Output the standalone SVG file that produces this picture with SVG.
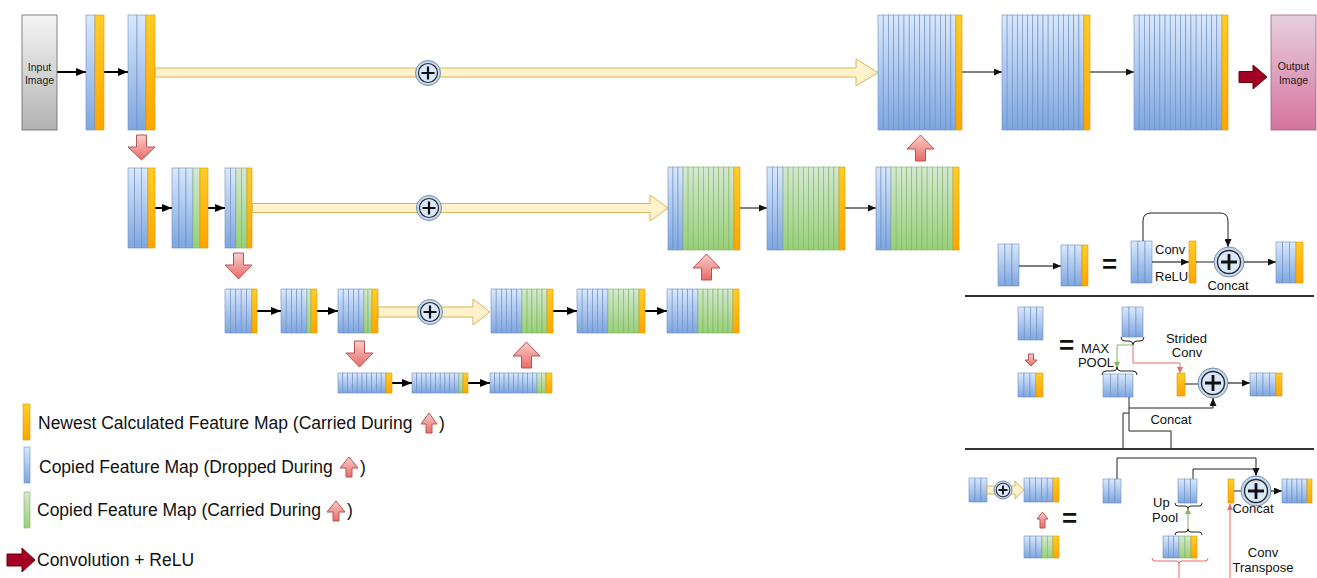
<svg xmlns="http://www.w3.org/2000/svg" xmlns:xlink="http://www.w3.org/1999/xlink" width="1317" height="578" viewBox="0 0 1317 578">
<style>
.b{fill:url(#gb);stroke:#6c8ebf;stroke-width:0.6}
.g{fill:url(#gg);stroke:#82b366;stroke-width:0.6}
.o{fill:url(#go);stroke:#d79b00;stroke-width:0.6}
.ya{fill:#fff2cc;stroke:#d6b656;stroke-width:1}
.ra{fill:url(#gr);stroke:#b85450;stroke-width:1}
.dr{fill:#a20025;stroke:#6f0000;stroke-width:1}
.k2{stroke:#000;stroke-width:2;fill:none;marker-end:url(#ak)}
.k1{stroke:#000;stroke-width:1;fill:none;marker-end:url(#as)}
.k0{stroke:#222;stroke-width:1;fill:none}
.kp{stroke:#222;stroke-width:1;fill:none;marker-end:url(#as)}
.rl{stroke:#ea6b66;stroke-width:1;fill:none}
.gl{stroke:#82b366;stroke-width:1;fill:none}
.br{stroke:#222;stroke-width:1;fill:none}
.sep{stroke:#333;stroke-width:2}
.t{font-family:"Liberation Sans",Arial,Helvetica,sans-serif;fill:#111}
.lg{font-size:17.5px}
.pn{font-size:13px}
.sm{font-size:10.5px;text-anchor:middle;fill:#222}
.eq{font-size:26px;font-weight:bold;text-anchor:middle}
.c{text-anchor:middle}
</style>
<defs>
<linearGradient id="gb" x1="0" y1="0" x2="0" y2="1"><stop offset="0" stop-color="#dae8fc"/><stop offset="1" stop-color="#7ea6e0"/></linearGradient>
<linearGradient id="gg" x1="0" y1="0" x2="0" y2="1"><stop offset="0" stop-color="#d5e8d4"/><stop offset="1" stop-color="#97d077"/></linearGradient>
<linearGradient id="go" x1="0" y1="0" x2="0" y2="1"><stop offset="0" stop-color="#ffcd28"/><stop offset="1" stop-color="#ffa500"/></linearGradient>
<linearGradient id="gr" x1="0" y1="0" x2="0" y2="1"><stop offset="0" stop-color="#f8cecc"/><stop offset="1" stop-color="#ea6b66"/></linearGradient>
<linearGradient id="gin" x1="0" y1="0" x2="0" y2="1"><stop offset="0" stop-color="#f5f5f5"/><stop offset="1" stop-color="#b3b3b3"/></linearGradient>
<linearGradient id="gout" x1="0" y1="0" x2="0" y2="1"><stop offset="0" stop-color="#e6d0de"/><stop offset="1" stop-color="#d5739d"/></linearGradient>
<marker id="ak" markerWidth="10" markerHeight="8" refX="10" refY="4" orient="auto" markerUnits="userSpaceOnUse"><path d="M0,0 L10,4 L0,8 z" fill="#000"/></marker>
<marker id="as" markerWidth="8" markerHeight="7" refX="8" refY="3.5" orient="auto" markerUnits="userSpaceOnUse"><path d="M0,0 L8,3.5 L0,7 z" fill="#111"/></marker>
<marker id="ar" markerWidth="6" markerHeight="6" refX="6" refY="3" orient="auto" markerUnits="userSpaceOnUse"><path d="M0,0 L6,3 L0,6 z" fill="#ea6b66"/></marker>
<marker id="ag" markerWidth="6" markerHeight="6" refX="6" refY="3" orient="auto" markerUnits="userSpaceOnUse"><path d="M0,0 L6,3 L0,6 z" fill="#82b366"/></marker>
<g id="pl">
<circle r="12.5" fill="#c9d8ec" stroke="#6f8fb5" stroke-width="1"/>
<circle r="9.5" fill="#dae8fc" stroke="#2b2b2b" stroke-width="1.2"/>
<path d="M-6.5,0H6.5M0,-6.5V6.5" stroke="#111" stroke-width="2.2"/>
</g>
<g id="pb">
<circle r="15" fill="#c9d8ec" stroke="#6f8fb5" stroke-width="1"/>
<circle r="11.5" fill="#dae8fc" stroke="#2b2b2b" stroke-width="1.4"/>
<path d="M-8,0H8M0,-8V8" stroke="#111" stroke-width="2.8"/>
</g>
<g id="ps">
<circle r="9" fill="#c9d8ec" stroke="#6f8fb5" stroke-width="1"/>
<circle r="6.8" fill="#dae8fc" stroke="#2b2b2b" stroke-width="1.1"/>
<path d="M-4.5,0H4.5M0,-4.5V4.5" stroke="#111" stroke-width="1.8"/>
</g>
</defs>

<!-- skip connections (big yellow arrows) and connectors -->
<g id="connectors">
<polygon class="ya" points="155,68 856,68 856,59 878,72.5 856,86 856,77 155,77"/>
<polygon class="ya" points="252,203.5 650,203.5 650,195 668,208 650,221 650,212.5 252,212.5"/>
<polygon class="ya" points="378,307 473,307 473,299 490,312 473,325 473,317 378,317"/>
<use href="#pl" x="428" y="73"/>
<use href="#pl" x="429" y="208"/>
<use href="#pl" x="430" y="312"/>
<path class="k2" d="M57,72H86"/>
<path class="k2" d="M104,72H128"/>
<path class="k1" d="M962,72H1002"/>
<path class="k1" d="M1090,72H1134"/>
<path class="k2" d="M155,208H172"/>
<path class="k2" d="M208,208H225"/>
<path class="k1" d="M740,208H767"/>
<path class="k1" d="M845,208H876"/>
<path class="k2" d="M257,311H281"/>
<path class="k2" d="M317,311H338"/>
<path class="k2" d="M553,311H577"/>
<path class="k2" d="M645,311H667"/>
<path class="k2" d="M392,383H412"/>
<path class="k2" d="M468,383H490"/>
<path class="ra" d="M136.5,135H146.5V147H155L141.5,160L128,147H136.5Z"/>
<path class="ra" d="M233.5,253H243.5V265H252L238.5,279L225,265H233.5Z"/>
<path class="ra" d="M354.5,341H364.5V353H373L359.5,367L346,353H354.5Z"/>
<path class="ra" d="M920.5,135L934,149H925.5V161H915.5V149H907Z"/>
<path class="ra" d="M706.5,254L720,268H711.5V280H701.5V268H693Z"/>
<path class="ra" d="M526.5,342L540,356H531.5V368H521.5V356H513Z"/>
<path class="dr" d="M1239,71.5H1253V65L1267,77L1253,89V82.5H1239Z"/>
</g>

<!-- top row -->
<g id="input"><rect x="22" y="15" width="35" height="115" fill="url(#gin)" stroke="#666" stroke-width="0.8"/><text class="t sm" x="39.5" y="71">Input</text><text class="t sm" x="39.5" y="84">Image</text></g>
<g id="s1"><rect class="b" x="86" y="15" width="9" height="115"/><rect class="o" x="95" y="15" width="9" height="115"/></g>
<g id="s2"><rect class="b" x="128" y="15" width="9" height="115"/><rect class="b" x="137" y="15" width="9" height="115"/><rect class="o" x="146" y="15" width="9" height="115"/></g>
<g id="s3">
<rect class="b" x="878" y="15" width="5.2" height="115"/><rect class="b" x="883.2" y="15" width="5.2" height="115"/><rect class="b" x="888.4" y="15" width="5.2" height="115"/><rect class="b" x="893.6" y="15" width="5.2" height="115"/><rect class="b" x="898.8" y="15" width="5.2" height="115"/><rect class="b" x="904" y="15" width="5.2" height="115"/><rect class="b" x="909.2" y="15" width="5.2" height="115"/><rect class="b" x="914.4" y="15" width="5.2" height="115"/><rect class="b" x="919.6" y="15" width="5.2" height="115"/><rect class="b" x="924.8" y="15" width="5.2" height="115"/><rect class="b" x="930" y="15" width="5.2" height="115"/><rect class="b" x="935.2" y="15" width="5.2" height="115"/><rect class="b" x="940.4" y="15" width="5.2" height="115"/><rect class="b" x="945.6" y="15" width="5.2" height="115"/><rect class="b" x="950.8" y="15" width="5.2" height="115"/>
<rect class="o" x="956" y="15" width="6" height="115"/></g>
<g id="s4">
<rect class="b" x="1002" y="15" width="5.13" height="115"/><rect class="b" x="1007.13" y="15" width="5.13" height="115"/><rect class="b" x="1012.25" y="15" width="5.13" height="115"/><rect class="b" x="1017.38" y="15" width="5.13" height="115"/><rect class="b" x="1022.5" y="15" width="5.13" height="115"/><rect class="b" x="1027.63" y="15" width="5.13" height="115"/><rect class="b" x="1032.75" y="15" width="5.13" height="115"/><rect class="b" x="1037.88" y="15" width="5.13" height="115"/><rect class="b" x="1043" y="15" width="5.13" height="115"/><rect class="b" x="1048.13" y="15" width="5.13" height="115"/><rect class="b" x="1053.25" y="15" width="5.13" height="115"/><rect class="b" x="1058.38" y="15" width="5.13" height="115"/><rect class="b" x="1063.5" y="15" width="5.13" height="115"/><rect class="b" x="1068.63" y="15" width="5.13" height="115"/><rect class="b" x="1073.75" y="15" width="5.13" height="115"/><rect class="b" x="1078.88" y="15" width="5.12" height="115"/>
<rect class="o" x="1084" y="15" width="6" height="115"/></g>
<g id="s5">
<rect class="b" x="1134" y="15" width="5.18" height="115"/><rect class="b" x="1139.18" y="15" width="5.18" height="115"/><rect class="b" x="1144.35" y="15" width="5.18" height="115"/><rect class="b" x="1149.53" y="15" width="5.18" height="115"/><rect class="b" x="1154.71" y="15" width="5.18" height="115"/><rect class="b" x="1159.88" y="15" width="5.18" height="115"/><rect class="b" x="1165.06" y="15" width="5.18" height="115"/><rect class="b" x="1170.24" y="15" width="5.18" height="115"/><rect class="b" x="1175.41" y="15" width="5.18" height="115"/><rect class="b" x="1180.59" y="15" width="5.18" height="115"/><rect class="b" x="1185.76" y="15" width="5.18" height="115"/><rect class="b" x="1190.94" y="15" width="5.18" height="115"/><rect class="b" x="1196.12" y="15" width="5.18" height="115"/><rect class="b" x="1201.29" y="15" width="5.18" height="115"/><rect class="b" x="1206.47" y="15" width="5.18" height="115"/><rect class="b" x="1211.65" y="15" width="5.18" height="115"/><rect class="b" x="1216.82" y="15" width="5.18" height="115"/>
<rect class="o" x="1222" y="15" width="6" height="115"/></g>
<g id="output"><rect x="1271" y="15" width="45" height="115" fill="url(#gout)" stroke="#996185" stroke-width="0.8"/><text class="t sm" x="1293.5" y="70">Output</text><text class="t sm" x="1293.5" y="84">Image</text></g>

<!-- row 2 -->
<g id="r2a"><rect class="b" x="128" y="168" width="6.67" height="80"/><rect class="b" x="134.67" y="168" width="6.67" height="80"/><rect class="b" x="141.33" y="168" width="6.67" height="80"/><rect class="o" x="148" y="168" width="7" height="80"/></g>
<g id="r2b"><rect class="b" x="172" y="168" width="7" height="80"/><rect class="b" x="179" y="168" width="7" height="80"/><rect class="b" x="186" y="168" width="7" height="80"/><rect class="g" x="193" y="168" width="7" height="80"/><rect class="o" x="200" y="168" width="8" height="80"/></g>
<g id="r2c"><rect class="b" x="225" y="168" width="5.5" height="80"/><rect class="b" x="230.5" y="168" width="5.5" height="80"/><rect class="g" x="236" y="168" width="5.5" height="80"/><rect class="g" x="241.5" y="168" width="5.5" height="80"/><rect class="o" x="247" y="168" width="5" height="80"/></g>
<g id="r2d">
<rect class="b" x="668" y="167" width="5" height="83"/><rect class="b" x="673" y="167" width="5" height="83"/><rect class="b" x="678" y="167" width="5" height="83"/>
<rect class="g" x="683" y="167" width="5.1" height="83"/><rect class="g" x="688.1" y="167" width="5.1" height="83"/><rect class="g" x="693.2" y="167" width="5.1" height="83"/><rect class="g" x="698.3" y="167" width="5.1" height="83"/><rect class="g" x="703.4" y="167" width="5.1" height="83"/><rect class="g" x="708.5" y="167" width="5.1" height="83"/><rect class="g" x="713.6" y="167" width="5.1" height="83"/><rect class="g" x="718.7" y="167" width="5.1" height="83"/><rect class="g" x="723.8" y="167" width="5.1" height="83"/><rect class="g" x="728.9" y="167" width="5.1" height="83"/>
<rect class="o" x="734" y="167" width="6" height="83"/></g>
<g id="r2e">
<rect class="b" x="767" y="167" width="5.33" height="83"/><rect class="b" x="772.33" y="167" width="5.33" height="83"/><rect class="b" x="777.67" y="167" width="5.33" height="83"/>
<rect class="g" x="783" y="167" width="5.09" height="83"/><rect class="g" x="788.09" y="167" width="5.09" height="83"/><rect class="g" x="793.18" y="167" width="5.09" height="83"/><rect class="g" x="798.27" y="167" width="5.09" height="83"/><rect class="g" x="803.36" y="167" width="5.09" height="83"/><rect class="g" x="808.45" y="167" width="5.09" height="83"/><rect class="g" x="813.55" y="167" width="5.09" height="83"/><rect class="g" x="818.64" y="167" width="5.09" height="83"/><rect class="g" x="823.73" y="167" width="5.09" height="83"/><rect class="g" x="828.82" y="167" width="5.09" height="83"/><rect class="g" x="833.91" y="167" width="5.09" height="83"/>
<rect class="o" x="839" y="167" width="6" height="83"/></g>
<g id="r2f">
<rect class="b" x="876" y="167" width="5" height="83"/><rect class="b" x="881" y="167" width="5" height="83"/><rect class="b" x="886" y="167" width="5" height="83"/>
<rect class="g" x="891" y="167" width="5.17" height="83"/><rect class="g" x="896.17" y="167" width="5.17" height="83"/><rect class="g" x="901.33" y="167" width="5.17" height="83"/><rect class="g" x="906.5" y="167" width="5.17" height="83"/><rect class="g" x="911.67" y="167" width="5.17" height="83"/><rect class="g" x="916.83" y="167" width="5.17" height="83"/><rect class="g" x="922" y="167" width="5.17" height="83"/><rect class="g" x="927.17" y="167" width="5.17" height="83"/><rect class="g" x="932.33" y="167" width="5.17" height="83"/><rect class="g" x="937.5" y="167" width="5.17" height="83"/><rect class="g" x="942.67" y="167" width="5.17" height="83"/><rect class="g" x="947.83" y="167" width="5.17" height="83"/>
<rect class="o" x="953" y="167" width="6" height="83"/></g>

<!-- row 3 -->
<g id="r3a"><rect class="b" x="225" y="289" width="5.4" height="44"/><rect class="b" x="230.4" y="289" width="5.4" height="44"/><rect class="b" x="235.8" y="289" width="5.4" height="44"/><rect class="b" x="241.2" y="289" width="5.4" height="44"/><rect class="b" x="246.6" y="289" width="5.4" height="44"/><rect class="o" x="252" y="289" width="5" height="44"/></g>
<g id="r3b"><rect class="b" x="281" y="289" width="5.2" height="44"/><rect class="b" x="286.2" y="289" width="5.2" height="44"/><rect class="b" x="291.4" y="289" width="5.2" height="44"/><rect class="b" x="296.6" y="289" width="5.2" height="44"/><rect class="b" x="301.8" y="289" width="5.2" height="44"/><rect class="g" x="307" y="289" width="4" height="44"/><rect class="o" x="311" y="289" width="6" height="44"/></g>
<g id="r3c"><rect class="b" x="338" y="289" width="5.2" height="44"/><rect class="b" x="343.2" y="289" width="5.2" height="44"/><rect class="b" x="348.4" y="289" width="5.2" height="44"/><rect class="b" x="353.6" y="289" width="5.2" height="44"/><rect class="b" x="358.8" y="289" width="5.2" height="44"/><rect class="g" x="364" y="289" width="4" height="44"/><rect class="g" x="368" y="289" width="4" height="44"/><rect class="o" x="372" y="289" width="6" height="44"/></g>
<g id="r3d"><rect class="b" x="491" y="289" width="5.17" height="44"/><rect class="b" x="496.17" y="289" width="5.17" height="44"/><rect class="b" x="501.33" y="289" width="5.17" height="44"/><rect class="b" x="506.5" y="289" width="5.17" height="44"/><rect class="b" x="511.67" y="289" width="5.17" height="44"/><rect class="b" x="516.83" y="289" width="5.17" height="44"/><rect class="g" x="522" y="289" width="5" height="44"/><rect class="g" x="527" y="289" width="5" height="44"/><rect class="g" x="532" y="289" width="5" height="44"/><rect class="g" x="537" y="289" width="5" height="44"/><rect class="g" x="542" y="289" width="5" height="44"/><rect class="o" x="547" y="289" width="6" height="44"/></g>
<g id="r3e"><rect class="b" x="577" y="289" width="5.17" height="44"/><rect class="b" x="582.17" y="289" width="5.17" height="44"/><rect class="b" x="587.33" y="289" width="5.17" height="44"/><rect class="b" x="592.5" y="289" width="5.17" height="44"/><rect class="b" x="597.67" y="289" width="5.17" height="44"/><rect class="b" x="602.83" y="289" width="5.17" height="44"/><rect class="g" x="608" y="289" width="5.17" height="44"/><rect class="g" x="613.17" y="289" width="5.17" height="44"/><rect class="g" x="618.33" y="289" width="5.17" height="44"/><rect class="g" x="623.5" y="289" width="5.17" height="44"/><rect class="g" x="628.67" y="289" width="5.17" height="44"/><rect class="g" x="633.83" y="289" width="5.17" height="44"/><rect class="o" x="639" y="289" width="6" height="44"/></g>
<g id="r3f"><rect class="b" x="667" y="289" width="5.17" height="44"/><rect class="b" x="672.17" y="289" width="5.17" height="44"/><rect class="b" x="677.33" y="289" width="5.17" height="44"/><rect class="b" x="682.5" y="289" width="5.17" height="44"/><rect class="b" x="687.67" y="289" width="5.17" height="44"/><rect class="b" x="692.83" y="289" width="5.17" height="44"/><rect class="g" x="698" y="289" width="5" height="44"/><rect class="g" x="703" y="289" width="5" height="44"/><rect class="g" x="708" y="289" width="5" height="44"/><rect class="g" x="713" y="289" width="5" height="44"/><rect class="g" x="718" y="289" width="5" height="44"/><rect class="g" x="723" y="289" width="5" height="44"/><rect class="g" x="728" y="289" width="5" height="44"/><rect class="o" x="733" y="289" width="6" height="44"/></g>

<!-- row 4 -->
<g id="r4a"><rect class="b" x="338" y="373" width="4.8" height="20"/><rect class="b" x="342.8" y="373" width="4.8" height="20"/><rect class="b" x="347.6" y="373" width="4.8" height="20"/><rect class="b" x="352.4" y="373" width="4.8" height="20"/><rect class="b" x="357.2" y="373" width="4.8" height="20"/><rect class="b" x="362" y="373" width="4.8" height="20"/><rect class="b" x="366.8" y="373" width="4.8" height="20"/><rect class="b" x="371.6" y="373" width="4.8" height="20"/><rect class="b" x="376.4" y="373" width="4.8" height="20"/><rect class="b" x="381.2" y="373" width="4.8" height="20"/><rect class="o" x="386" y="373" width="6" height="20"/></g>
<g id="r4b"><rect class="b" x="412" y="373" width="4.7" height="20"/><rect class="b" x="416.7" y="373" width="4.7" height="20"/><rect class="b" x="421.4" y="373" width="4.7" height="20"/><rect class="b" x="426.1" y="373" width="4.7" height="20"/><rect class="b" x="430.8" y="373" width="4.7" height="20"/><rect class="b" x="435.5" y="373" width="4.7" height="20"/><rect class="b" x="440.2" y="373" width="4.7" height="20"/><rect class="b" x="444.9" y="373" width="4.7" height="20"/><rect class="b" x="449.6" y="373" width="4.7" height="20"/><rect class="b" x="454.3" y="373" width="4.7" height="20"/><rect class="g" x="459" y="373" width="4" height="20"/><rect class="o" x="463" y="373" width="5" height="20"/></g>
<g id="r4c"><rect class="b" x="490" y="373" width="4.7" height="20"/><rect class="b" x="494.7" y="373" width="4.7" height="20"/><rect class="b" x="499.4" y="373" width="4.7" height="20"/><rect class="b" x="504.1" y="373" width="4.7" height="20"/><rect class="b" x="508.8" y="373" width="4.7" height="20"/><rect class="b" x="513.5" y="373" width="4.7" height="20"/><rect class="b" x="518.2" y="373" width="4.7" height="20"/><rect class="b" x="522.9" y="373" width="4.7" height="20"/><rect class="b" x="527.6" y="373" width="4.7" height="20"/><rect class="b" x="532.3" y="373" width="4.7" height="20"/><rect class="g" x="537" y="373" width="4.5" height="20"/><rect class="g" x="541.5" y="373" width="4.5" height="20"/><rect class="o" x="546" y="373" width="6" height="20"/></g>

<!-- legend -->
<g id="legend">
<rect class="o" x="23" y="404" width="7" height="36"/>
<text class="t lg" x="38" y="429">Newest Calculated Feature Map (Carried During</text>
<path class="ra" d="M429,413L437,424H432V433H426V424H421Z"/>
<text class="t lg" x="439" y="429">)</text>
<rect class="b" x="24" y="447" width="6" height="36"/>
<text class="t lg" x="39" y="473">Copied Feature Map (Dropped During</text>
<path class="ra" d="M349,457L358,468H352V477H346V468H340Z"/>
<text class="t lg" x="360" y="473">)</text>
<rect class="g" x="24" y="492" width="6" height="36"/>
<text class="t lg" x="37" y="516">Copied Feature Map (Carried During</text>
<path class="ra" d="M336,501L345,512H339V521H333V512H327Z"/>
<text class="t lg" x="347" y="516">)</text>
<path class="dr" d="M7,554H22V548L35,560L22,572V566H7Z"/>
<text class="t lg" x="37" y="566">Convolution + ReLU</text>
</g>

<!-- panel 1: dense block -->
<g id="panel1">
<rect class="b" x="998" y="244" width="7" height="42"/><rect class="b" x="1005" y="244" width="7" height="42"/><rect class="b" x="1012" y="244" width="7" height="42"/>
<path class="k1" d="M1019,266H1061"/>
<rect class="b" x="1061" y="245" width="7" height="41"/><rect class="b" x="1068" y="245" width="7" height="41"/><rect class="b" x="1075" y="245" width="7" height="41"/><rect class="o" x="1082" y="245" width="6" height="41"/>
<text class="t eq" x="1109.5" y="272.5">=</text>
<rect class="b" x="1131" y="241" width="7" height="42"/><rect class="b" x="1138" y="241" width="7" height="42"/><rect class="b" x="1145" y="241" width="7" height="42"/>
<path class="kp" d="M1143,241V221Q1143,213 1151,213H1220Q1228,213 1228,221V247"/>
<path class="k1" d="M1152,262H1189"/>
<text class="t pn" x="1155" y="253.5">Conv</text>
<text class="t pn" x="1155" y="280.5">ReLU</text>
<rect class="o" x="1189" y="241" width="7" height="42"/>
<path class="k0" d="M1196,262H1214"/>
<use href="#pb" x="1229" y="262"/>
<text class="t pn c" x="1228" y="289.5">Concat</text>
<path class="k1" d="M1244,262H1276"/>
<rect class="b" x="1276" y="242" width="6.7" height="41"/><rect class="b" x="1282.7" y="242" width="6.7" height="41"/><rect class="b" x="1289.4" y="242" width="6.6" height="41"/><rect class="o" x="1296" y="242" width="7" height="41"/>
</g>
<line class="sep" x1="965" y1="296" x2="1314" y2="296"/>

<!-- panel 2: downsampling -->
<g id="panel2">
<rect class="b" x="1018" y="307" width="6.25" height="33"/><rect class="b" x="1024.25" y="307" width="6.25" height="33"/><rect class="b" x="1030.5" y="307" width="6.25" height="33"/><rect class="b" x="1036.75" y="307" width="6.25" height="33"/>
<path class="ra" d="M1028.5,354H1033.5V360H1037L1031,366L1025,360H1028.5Z"/>
<rect class="b" x="1018" y="373" width="6" height="24"/><rect class="b" x="1024" y="373" width="6" height="24"/><rect class="b" x="1030" y="373" width="6" height="24"/><rect class="o" x="1036" y="373" width="7" height="24"/>
<text class="t eq" x="1066.5" y="353.5">=</text>
<rect class="b" x="1122" y="307" width="7" height="30"/><rect class="b" x="1129" y="307" width="7" height="30"/><rect class="b" x="1136" y="307" width="7" height="30"/>
<path class="br" d="M1121,337Q1121,341 1125,341H1129Q1133,341 1133,345Q1133,341 1137,341H1140Q1144,341 1144,337"/>
<path class="gl" d="M1133,345H1117V368" marker-end="url(#ag)"/>
<path class="rl" d="M1133,345V363H1180V373" marker-end="url(#ar)"/>
<text class="t pn c" x="1095" y="352.5">MAX</text>
<text class="t pn c" x="1096" y="366.5">POOL</text>
<text class="t pn c" x="1186.5" y="342.5">Strided</text>
<text class="t pn c" x="1187" y="356.5">Conv</text>
<path class="br" d="M1102,375Q1102,371 1106,371H1113Q1117,371 1117,367Q1117,371 1121,371H1133Q1137,371 1137,375"/>
<rect class="b" x="1103" y="374" width="7.5" height="23"/><rect class="b" x="1110.5" y="374" width="7.5" height="23"/><rect class="b" x="1118" y="374" width="7.5" height="23"/><rect class="b" x="1125.5" y="374" width="7.5" height="23"/>
<rect class="o" x="1177" y="373" width="8" height="23"/>
<path class="k0" d="M1185,384H1198"/>
<use href="#pb" x="1213" y="383"/>
<path class="k1" d="M1228,383H1250"/>
<rect class="b" x="1250" y="373" width="6.5" height="23"/><rect class="b" x="1256.5" y="373" width="6.5" height="23"/><rect class="b" x="1263" y="373" width="6.5" height="23"/><rect class="b" x="1269.5" y="373" width="6.5" height="23"/><rect class="o" x="1276" y="373" width="6" height="23"/>
<path class="kp" d="M1129,397V408H1213V398"/>
<path class="k0" d="M1129,408V431H1171V449"/>
<path class="k0" d="M1129,413H1123V449"/>
<text class="t pn c" x="1171" y="423.5">Concat</text>
</g>
<line class="sep" x1="965" y1="449" x2="1314" y2="449"/>

<!-- panel 3: upsampling -->
<g id="panel3">
<rect class="b" x="969" y="478" width="6" height="24"/><rect class="b" x="975" y="478" width="6" height="24"/><rect class="b" x="981" y="478" width="6" height="24"/>
<polygon class="ya" points="987,486 1015,486 1015,481 1023.5,490 1015,499 1015,494 987,494"/>
<use href="#ps" x="1003" y="490"/>
<rect class="b" x="1024" y="478" width="5.8" height="24"/><rect class="b" x="1029.8" y="478" width="5.8" height="24"/><rect class="b" x="1035.6" y="478" width="5.8" height="24"/><rect class="b" x="1041.4" y="478" width="5.8" height="24"/><rect class="b" x="1047.2" y="478" width="5.8" height="24"/><rect class="o" x="1053" y="478" width="6" height="24"/>
<path class="ra" d="M1042.5,512L1048,519H1045V528H1040V519H1037Z"/>
<rect class="b" x="1024" y="536" width="6" height="22"/><rect class="b" x="1030" y="536" width="6" height="22"/><rect class="b" x="1036" y="536" width="6" height="22"/><rect class="g" x="1042" y="536" width="5.5" height="22"/><rect class="g" x="1047.5" y="536" width="5.5" height="22"/><rect class="o" x="1053" y="536" width="6" height="22"/>
<text class="t eq" x="1069.5" y="527">=</text>
<rect class="b" x="1103" y="479" width="6" height="24"/><rect class="b" x="1109" y="479" width="6" height="24"/><rect class="b" x="1115" y="479" width="6" height="24"/>
<path class="kp" d="M1117,479V458H1256V476"/>
<path class="k0" d="M1193,479V469H1256"/>
<rect class="b" x="1178" y="479" width="6.33" height="24"/><rect class="b" x="1184.33" y="479" width="6.33" height="24"/><rect class="b" x="1190.67" y="479" width="6.33" height="24"/>
<path class="br" d="M1175,503Q1175,506 1178,506H1185Q1188,506 1188,509Q1188,506 1191,506H1199Q1202,506 1202,503"/>
<text class="t pn" x="1153" y="506.5">Up</text>
<text class="t pn" x="1152" y="521.5">Pool</text>
<path class="gl" d="M1188,531V508" marker-end="url(#ag)"/>
<path class="br" d="M1175,535Q1175,532 1178,532H1185Q1188,532 1188,529Q1188,532 1191,532H1199Q1202,532 1202,535"/>
<rect class="b" x="1163" y="536" width="5.33" height="22"/><rect class="b" x="1168.33" y="536" width="5.33" height="22"/><rect class="b" x="1173.67" y="536" width="5.33" height="22"/><rect class="g" x="1179" y="536" width="6" height="22"/><rect class="g" x="1185" y="536" width="6" height="22"/><rect class="o" x="1191" y="536" width="6" height="22"/>
<path class="rl" d="M1152,558Q1152,561 1155,561H1176Q1179,561 1179,564Q1179,561 1182,561H1205Q1208,561 1208,558"/>
<path class="rl" d="M1179,564V578"/>
<path class="rl" d="M1230,578V504" marker-end="url(#ar)"/>
<rect class="o" x="1228" y="479" width="6" height="24"/>
<path class="k0" d="M1234,491H1241"/>
<use href="#pb" x="1256" y="491"/>
<text class="t pn c" x="1253" y="512.5">Concat</text>
<path class="k1" d="M1271,491H1282"/>
<rect class="b" x="1282" y="479" width="5" height="24"/><rect class="b" x="1287" y="479" width="5" height="24"/><rect class="b" x="1292" y="479" width="5" height="24"/><rect class="b" x="1297" y="479" width="5" height="24"/><rect class="b" x="1302" y="479" width="5" height="24"/><rect class="o" x="1307" y="479" width="5" height="24"/>
<text class="t pn c" x="1263" y="556.5">Conv</text>
<text class="t pn c" x="1263" y="571.5">Transpose</text>
</g>
</svg>
